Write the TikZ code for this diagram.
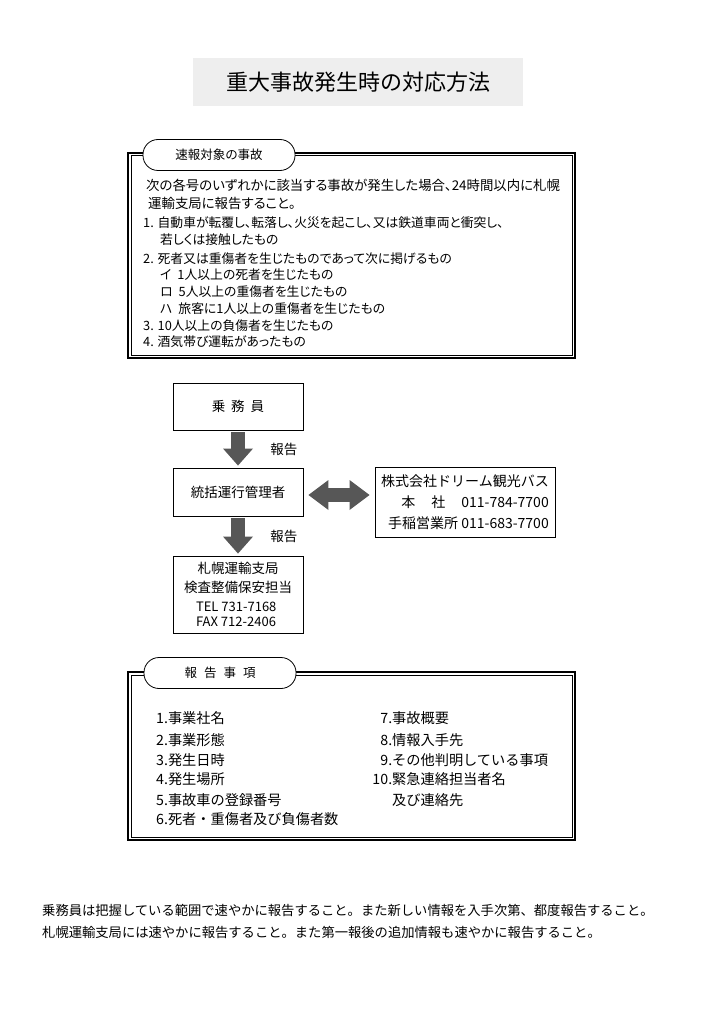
\documentclass[tikz,border=0pt]{standalone}
\usepackage{fontspec}
\setmainfont{Noto Sans CJK JP}
\newfontfamily\jpp[RawFeature=+palt]{Noto Sans CJK JP}
\usetikzlibrary{arrows.meta,positioning,calc}
\definecolor{arr}{HTML}{575757}
\tikzset{>=Stealth,
  blk/.style={draw, line width=0.9pt, minimum width=130pt, minimum height=47pt, align=center, font=\fontsize{13.5}{18.5}\selectfont},
  frm/.style={draw, line width=1.4pt, inner sep=0pt},
  tabx/.style={draw, fill=white, line width=0.8pt, rounded corners=15pt, minimum width=152pt, minimum height=31pt, font=\jpp\fontsize{12.5}{15}\selectfont},
  txt/.style={anchor=west, inner sep=0pt},
  fat/.style={draw=arr, line width=14pt, -{Triangle[length=17pt, width=30pt, line width=0pt]}, shorten <=2pt, shorten >=2pt},
  fatboth/.style={draw=arr, line width=14pt, {Triangle[length=20pt, width=30pt, line width=0pt]}-{Triangle[length=20pt, width=30pt, line width=0pt]}, shorten <=5pt, shorten >=5pt}}

\begin{document}
\begin{tikzpicture}[x=1pt, y=-1pt]
  \useasboundingbox[fill=white] (0,0) rectangle (724,1024);
  % title
  \node[fill=gray!13, minimum width=330pt, minimum height=48pt, font=\fontsize{22}{26}\selectfont] (title) at (358,82) {重大事故発生時の対応方法};

  % accidents to report
  \node[frm, minimum width=447pt, minimum height=205pt] (f1) at (351.5,255.5) {};
  \draw[line width=0.6pt] ($(f1.north west)+(3.5,3.5)$) rectangle ($(f1.south east)+(-3.5,-3.5)$);
  \node[tabx] (t1) at (219,155) {速報対象の事故};
  \node[txt, font=\jpp\fontsize{13.4}{18}\selectfont] (intro1) at (146,185) {次の各号のいずれかに該当する事故が発生した場合、24時間以内に札幌};
  \node[txt, font=\jpp\fontsize{13.4}{18}\selectfont] (intro2) at (148,203) {運輸支局に報告すること。};
  \foreach \x/\y/\t [count=\i] in {
    143/223/{1. 自動車が転覆し、転落し、火災を起こし、又は鉄道車両と衝突し、},
    160/240/{若しくは接触したもの},
    143/259/{2. 死者又は重傷者を生じたものであって次に掲げるもの},
    160/275/{イ\hspace{6pt}1人以上の死者を生じたもの},
    160/292/{ロ\hspace{6pt}5人以上の重傷者を生じたもの},
    160/309/{ハ\hspace{6pt}旅客に1人以上の重傷者を生じたもの},
    143/326/{3. 10人以上の負傷者を生じたもの},
    143/342/{4. 酒気帯び運転があったもの}}
    \node[txt, font=\jpp\fontsize{12.8}{15}\selectfont] (item\i) at (\x,\y) {\t};

  % reporting flow
  \node[blk] (crew) at (238,406.5) {乗\hspace{6pt}務\hspace{6pt}員};
  \node[blk, minimum height=48pt] (mgr) at (238,492) {統括運行管理者};
  \node[blk, minimum height=77pt] (kyoku) at (238,594.5) {札幌運輸支局\\検査整備保安担当\\[0.5pt]
    {\fontsize{13}{14}\selectfont\makebox[84pt][l]{TEL 731-7168}}\\[-3.5pt]
    {\fontsize{13}{14}\selectfont\makebox[84pt][l]{FAX 712-2406}}};
  \node[blk, minimum width=180pt, minimum height=70pt, align=right, font=\fontsize{14}{21}\selectfont] (bus) at (465,502)
    {株式会社ドリーム観光バス\\本\hspace{16pt}社\hspace{16pt}011-784-7700\\手稲営業所 011-683-7700};
  \draw[fat] (crew) -- node[right=22pt, draw=none, font=\fontsize{13.5}{16}\selectfont] (rep1) {報告} (mgr);
  \draw[fat] (mgr) -- node[right=22pt, draw=none, font=\fontsize{13.5}{16}\selectfont] (rep2) {報告} (kyoku);
  \coordinate (dbl) at ([yshift=-3pt]mgr.east);
  \draw[fatboth] (dbl) -- (dbl -| bus.west);

  % items to report
  \node[frm, minimum width=447pt, minimum height=168pt] (f2) at (351.5,756) {};
  \draw[line width=0.6pt] ($(f2.north west)+(3.5,3.5)$) rectangle ($(f2.south east)+(-3.5,-3.5)$);
  \node[tabx] (t2) at (220,673) {報\hspace{7pt}告\hspace{7pt}事\hspace{7pt}項};
  \foreach \y/\t [count=\i] in {718/事業社名, 740/事業形態, 760/発生日時, 779/発生場所, 800/事故車の登録番号, 819/死者・重傷者及び負傷者数}
    \node[txt, font=\fontsize{14.2}{17}\selectfont] (left\i) at (156,\y) {\i.\t};
  \foreach \y/\n/\t in {718/7/事故概要, 740/8/情報入手先, 760/9/その他判明している事項, 779/10/緊急連絡担当者名}
    \node[txt, font=\fontsize{14.2}{17}\selectfont] (right\n) at (371,\y) {\makebox[21pt][r]{\n.}\t};
  \node[txt, font=\fontsize{14.2}{17}\selectfont] (right11) at (392,800) {及び連絡先};

  % notes
  \node[txt, font=\fontsize{13.3}{16}\selectfont] (note1) at (42,910) {乗務員は把握している範囲で速やかに報告すること。また新しい情報を入手次第、都度報告すること。};
  \node[txt, font=\fontsize{13.3}{16}\selectfont] (note2) at (42,932) {札幌運輸支局には速やかに報告すること。また第一報後の追加情報も速やかに報告すること。};
\end{tikzpicture}
\end{document}
